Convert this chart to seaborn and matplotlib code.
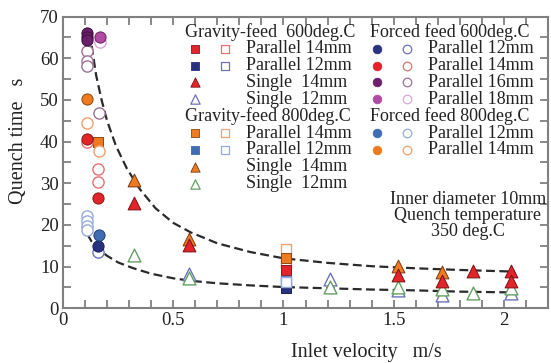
import matplotlib
matplotlib.use("Agg")
import matplotlib.pyplot as plt
import seaborn as sns
from matplotlib.ticker import MultipleLocator

# ---------------- data ----------------
# Gravity-feed 600 deg.C
g600_p14_fill_x = [1.01]
g600_p14_fill_y = [9.2]
g600_p14_open_x = [1.01]
g600_p14_open_y = [10.8]
g600_p12_fill_x = [1.01]
g600_p12_fill_y = [4.8]
g600_p12_open_x = [1.01]
g600_p12_open_y = [6.6]
g600_s14_x = [0.32, 0.57, 1.52, 1.72, 1.86, 2.03, 2.03]
g600_s14_y = [25.3, 15.2, 8.1, 6.5, 8.9, 8.9, 6.5]
g600_s12_x = [0.57, 1.21, 1.52, 1.72, 2.03]
g600_s12_y = [8.2, 7.0, 4.4, 3.3, 3.6]
# Gravity-feed 800 deg.C
g800_p14_fill_x = [0.16, 1.01]
g800_p14_fill_y = [40.0, 12.1]
g800_p14_open_x = [1.01]
g800_p14_open_y = [14.2]
g800_p12_open_x = [1.01]
g800_p12_open_y = [6.2]
g800_s14_x = [0.32, 0.57, 1.52, 1.72]
g800_s14_y = [30.8, 16.6, 10.1, 8.7]
g800_s12_x = [0.32, 0.57, 1.21, 1.52, 1.72, 1.86, 2.03]
g800_s12_y = [12.7, 7.2, 5.1, 5.2, 4.7, 3.7, 4.8]
# Forced feed 600 deg.C
f600_p12_fill_x = [0.16]
f600_p12_fill_y = [14.9]
f600_p12_open_x = [0.16]
f600_p12_open_y = [13.5]
f600_p14_fill_x = [0.11, 0.16]
f600_p14_fill_y = [40.7, 26.5]
f600_p14_open_x = [0.11, 0.16, 0.16]
f600_p14_open_y = [39.9, 33.4, 30.3]
f600_p16_fill_x = [0.11, 0.11, 0.11]
f600_p16_fill_y = [66.0, 65.2, 64.4]
f600_p16_open_x = [0.11, 0.11, 0.11, 0.165]
f600_p16_open_y = [61.8, 59.4, 58.2, 46.9]
f600_p18_fill_x = [0.168]
f600_p18_fill_y = [65.0]
f600_p18_open_x = [0.168]
f600_p18_open_y = [63.9]
# Forced feed 800 deg.C
f800_p12_fill_x = [0.165]
f800_p12_fill_y = [17.6]
f800_p12_open_x = [0.11, 0.11, 0.11, 0.11]
f800_p12_open_y = [22.1, 20.9, 19.8, 18.8]
f800_p14_fill_x = [0.11]
f800_p14_fill_y = [50.3]
f800_p14_open_x = [0.11, 0.165]
f800_p14_open_y = [44.4, 37.8]

# dashed trend curves
upper_x = [0.13, 0.15, 0.175, 0.2, 0.24, 0.29, 0.35, 0.42, 0.5, 0.58, 0.7, 0.85, 1.0, 1.2, 1.4, 1.6, 1.8, 2.05]
upper_y = [63.0, 56.0, 50.0, 45.0, 39.0, 33.5, 28.5, 24.0, 20.5, 18.2, 15.6, 13.5, 12.0, 10.9, 10.1, 9.6, 9.2, 8.8]
lower_x = [0.11, 0.13, 0.16, 0.2, 0.25, 0.32, 0.4, 0.5, 0.58, 0.7, 0.85, 1.0, 1.2, 1.4, 1.6, 1.8, 2.05]
lower_y = [17.8, 16.0, 14.2, 12.6, 11.0, 9.6, 8.3, 7.2, 6.6, 6.0, 5.5, 5.1, 4.8, 4.5, 4.3, 4.0, 3.8]

x_ticks = [0, 0.5, 1, 1.5, 2]
x_ticklabels = ["0", "0.5", "1", "1.5", "2"]
y_ticks = [0, 10, 20, 30, 40, 50, 60, 70]

# ---------------- figure ----------------
sns.set_theme(style="white")
plt.rcParams['font.family'] = ['Liberation Serif', 'DejaVu Serif']

W, H = 551, 363
fig = plt.figure(figsize=(W / 100, H / 100), dpi=100)
L, R, T, B = 63, 548, 16.6, 308.3
ax = fig.add_axes([L / W, 1 - B / H, (R - L) / W, (B - T) / H])

RED, RED_O = '#e3242b', '#e77070'
NAVY, NAVY_O = '#29327f', '#6d72bd'
ORANGE, ORANGE_O = '#ef7b21', '#f1a070'
STEEL, STEEL_O = '#3f6cb3', '#95abdc'
GREEN = '#62a062'
PUR16, PUR16_O = '#6a1f6b', '#9c7195'
MAG18, MAG18_O = '#b04aa2', '#d9a6d4'


def pts(x, y, marker, color, filled, s=55, edge=None, z=3):
    if filled:
        sns.scatterplot(x=x, y=y, ax=ax, marker=marker, color=color,
                        edgecolor=edge if edge else color, s=s, linewidth=0.7,
                        zorder=z, legend=False)
    else:
        sns.scatterplot(x=x, y=y, ax=ax, marker=marker, facecolor='white',
                        edgecolor=color, s=s, linewidth=1.0, zorder=z, legend=False)


# curves
sns.lineplot(x=upper_x, y=upper_y, ax=ax, color='#2a2a2a', lw=1.6,
             linestyle=(0, (4, 2)), zorder=2, sort=False)
sns.lineplot(x=lower_x, y=lower_y, ax=ax, color='#2a2a2a', lw=1.6,
             linestyle=(0, (4, 2)), zorder=2, sort=False)

SQ, CI, TR = 60, 65, 85
# gravity 600
pts(g600_p14_open_x, g600_p14_open_y, 's', RED_O, False, SQ)
pts(g600_p14_fill_x, g600_p14_fill_y, 's', RED, True, SQ, '#8a1a1a')
pts(g600_p12_open_x, g600_p12_open_y, 's', NAVY_O, False, SQ)
pts(g600_p12_fill_x, g600_p12_fill_y, 's', NAVY, True, SQ, '#1a1f55')
# gravity 800
pts(g800_p14_open_x, g800_p14_open_y, 's', ORANGE_O, False, SQ, z=2.5)
pts(g800_p14_fill_x, g800_p14_fill_y, 's', ORANGE, True, SQ, '#8a4a10')
pts(g800_p12_open_x, g800_p12_open_y, 's', STEEL_O, False, SQ)
# triangles
pts(g800_s12_x, g800_s12_y, '^', GREEN, False, TR)
pts(g600_s12_x, g600_s12_y, '^', NAVY_O, False, TR, z=2.8)
pts(g800_s14_x, g800_s14_y, '^', ORANGE, True, TR, '#7a3a10')
pts(g600_s14_x, g600_s14_y, '^', RED, True, TR, '#7a1010')
# forced 600
pts(f600_p16_open_x, f600_p16_open_y, 'o', PUR16_O, False, CI)
pts(f600_p16_fill_x, f600_p16_fill_y, 'o', PUR16, True, CI, '#3a0f3b')
pts(f600_p18_open_x, f600_p18_open_y, 'o', MAG18_O, False, CI)
pts(f600_p18_fill_x, f600_p18_fill_y, 'o', MAG18, True, CI, '#6a2060')
pts(f600_p14_open_x, f600_p14_open_y, 'o', RED_O, False, CI)
pts(f600_p14_fill_x, f600_p14_fill_y, 'o', RED, True, CI, '#8a1a1a')
pts(f600_p12_open_x, f600_p12_open_y, 'o', NAVY_O, False, CI)
pts(f600_p12_fill_x, f600_p12_fill_y, 'o', NAVY, True, CI, '#1a1f55')
# forced 800
pts(f800_p12_open_x, f800_p12_open_y, 'o', STEEL_O, False, CI)
pts(f800_p12_fill_x, f800_p12_fill_y, 'o', STEEL, True, CI, '#223f70')
pts(f800_p14_open_x, f800_p14_open_y, 'o', ORANGE_O, False, CI)
pts(f800_p14_fill_x, f800_p14_fill_y, 'o', ORANGE, True, CI, '#8a4a10')

# ---------------- axes styling ----------------
ax.set_xlim(0, 2.2)
ax.set_ylim(0, 70)
ax.set_xticks(x_ticks)
ax.set_xticklabels(x_ticklabels)
ax.set_yticks(y_ticks)
ax.xaxis.set_minor_locator(MultipleLocator(0.1))
ax.yaxis.set_minor_locator(MultipleLocator(5))
SPINE = '#808080'
for sp in ax.spines.values():
    sp.set_color(SPINE)
    sp.set_linewidth(1.5)
    sp.set_visible(True)
ax.tick_params(which='both', direction='in', top=True, right=True, bottom=True, left=True,
               color=SPINE, width=1.3, length=6, labelsize=13.5, labelcolor='#222222')
ax.tick_params(axis='x', which='major', pad=3)
ax.tick_params(axis='y', which='major', pad=3)
ax.set_facecolor('white')
fig.patch.set_facecolor('white')

ax.set_xlabel("Inlet velocity   m/s", fontsize=14.5, color='#222222', va='center')
ax.xaxis.set_label_coords((366 - L) / (R - L), (B - 352) / (B - T))
ax.set_ylabel("Quench time   s", fontsize=14.5, color='#222222', va='center')
ax.yaxis.set_label_coords((19 - L) / (R - L), (B - 141) / (B - T))


# ---------------- legend (manual layout) ----------------
def ax_xy(px, py):
    return (px - L) / (R - L), (B - py) / (B - T)


LFS = 13
TXT = '#222222'
rows = [31.7 + 16.9 * i for i in range(10)]


def ltext(px, py, s, ha='left'):
    xx, yy = ax_xy(px, py)
    ax.text(xx, yy, s, transform=ax.transAxes, fontsize=LFS, color=TXT,
            ha=ha, va='center', zorder=6)


def lmark(px, py, marker, color, filled, s=38, edge=None):
    xx, yy = ax_xy(px, py)
    if filled:
        ax.scatter([xx], [yy], transform=ax.transAxes, marker=marker, s=s,
                   color=color, edgecolor=edge if edge else color, linewidth=0.6,
                   clip_on=False, zorder=6)
    else:
        ax.scatter([xx], [yy], transform=ax.transAxes, marker=marker, s=s,
                   facecolor='white', edgecolor=color, linewidth=0.9,
                   clip_on=False, zorder=6)


c1f, c1o, c1t = 195, 225, 246.5
ltext(185, rows[0], "Gravity-feed  600deg.C")
lmark(c1f, rows[1], 's', RED, True, edge='#8a1a1a'); lmark(c1o, rows[1], 's', RED_O, False)
ltext(c1t, rows[1], "Parallel 14mm")
lmark(c1f, rows[2], 's', NAVY, True); lmark(c1o, rows[2], 's', NAVY_O, False)
ltext(c1t, rows[2], "Parallel 12mm")
lmark(c1f, rows[3], '^', RED, True, s=45, edge='#7a1010')
ltext(c1t, rows[3], "Single  14mm")
lmark(c1f, rows[4], '^', NAVY_O, False, s=45)
ltext(c1t, rows[4], "Single  12mm")
ltext(185, rows[5], "Gravity-feed 800deg.C")
lmark(c1f, rows[6], 's', ORANGE, True, edge='#8a4a10'); lmark(c1o, rows[6], 's', ORANGE_O, False)
ltext(c1t, rows[6], "Parallel 14mm")
lmark(c1f, rows[7], 's', STEEL, True); lmark(c1o, rows[7], 's', STEEL_O, False)
ltext(c1t, rows[7], "Parallel 12mm")
lmark(c1f, rows[8], '^', ORANGE, True, s=45, edge='#7a3a10')
ltext(c1t, rows[8], "Single  14mm")
lmark(c1f, rows[9], '^', GREEN, False, s=45)
ltext(c1t, rows[9], "Single  12mm")

c2f, c2o, c2t = 377, 407, 428
ltext(370, rows[0], "Forced feed 600deg.C")
lmark(c2f, rows[1], 'o', NAVY, True); lmark(c2o, rows[1], 'o', NAVY_O, False)
ltext(c2t, rows[1], "Parallel 12mm")
lmark(c2f, rows[2], 'o', RED, True); lmark(c2o, rows[2], 'o', RED_O, False)
ltext(c2t, rows[2], "Parallel 14mm")
lmark(c2f, rows[3], 'o', PUR16, True); lmark(c2o, rows[3], 'o', PUR16_O, False)
ltext(c2t, rows[3], "Parallel 16mm")
lmark(c2f, rows[4], 'o', MAG18, True); lmark(c2o, rows[4], 'o', MAG18_O, False)
ltext(c2t, rows[4], "Parallel 18mm")
ltext(370, rows[5], "Forced feed 800deg.C")
lmark(c2f, rows[6], 'o', STEEL, True); lmark(c2o, rows[6], 'o', STEEL_O, False)
ltext(c2t, rows[6], "Parallel 12mm")
lmark(c2f, rows[7], 'o', ORANGE, True); lmark(c2o, rows[7], 'o', ORANGE_O, False)
ltext(c2t, rows[7], "Parallel 14mm")

ltext(468, 199, "Inner diameter 10mm", ha='center')
ltext(468, 215.5, "Quench temperature", ha='center')
ltext(468, 232, "350 deg.C", ha='center')

fig.savefig("out.png", dpi=100)
